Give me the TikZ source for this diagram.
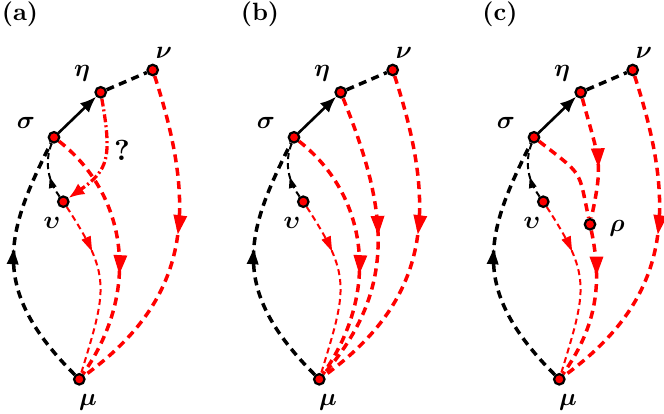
\documentclass[tikz,border=0pt]{standalone}
\usepackage{graphicx}
\usepackage{amsmath}
\usepackage{bm}
\usetikzlibrary{arrows.meta,decorations.markings}
\pgfdeclarelayer{edges}
\pgfsetlayers{edges,main}
\newcommand\enl[1]{\scalebox{2.5}{#1}}
\tikzset{
  vtx/.style={circle, fill=red, draw=black, line width=2.2pt, minimum size=10.5pt, inner sep=0pt},
  lbl/.style={inner sep=0pt},
  thk/.style={line width=3.5pt, dash pattern=on 8pt off 5.5pt},
  thn/.style={line width=2pt, dash pattern=on 6pt off 4pt},
  dashdot/.style={line width=3.3pt, dash pattern=on 8pt off 3pt on 2pt off 3pt},
  tri/.style n args={3}{postaction={decorate, decoration={markings, mark=at position #1 with {\fill[solid] (0pt,0pt) -- (-#2,#3) -- (-#2,-#3) -- cycle;}}}},
  redarr/.style={tri={#1}{19pt}{7pt}},
  blkarr/.style={tri={#1}{15pt}{6pt}},
  sredarr/.style={tri={#1}{15pt}{5pt}},
  sblkarr/.style={tri={#1}{11pt}{4pt}},
}
\newcommand\panelcommon{%
  \node[vtx] (nu) at (152.7,-70) {};
  \node[vtx] (eta) at (100.7,-92.3) {};
  \node[vtx] (sig) at (54,-137.3) {};
  \node[vtx] (ups) at (63.3,-201.7) {};
  \node[vtx] (mu) at (79.3,-379.3) {};
  \node[lbl] (lnu) at (164,-53) {\enl{$\bm{\nu}$}};
  \node[lbl] (leta) at (82,-73) {\enl{$\bm{\eta}$}};
  \node[lbl] (lsig) at (26,-123) {\enl{$\bm{\sigma}$}};
  \node[lbl] (lups) at (52,-223) {\enl{$\bm{\upsilon}$}};
  \node[lbl] (lmu) at (88,-402) {\enl{$\bm{\mu}$}};
  \begin{pgfonlayer}{edges}
    \draw[thk] (eta) -- (nu);
    \draw[line width=2.6pt, -{Latex[length=16pt,width=13pt]}] (sig) -- (eta);
    \draw[thk, blkarr=0.56] (mu) to[out=135,in=243,out distance=120pt,in distance=110pt] (sig);
    \draw[thn, sblkarr=0.39] (ups) to[out=126,in=249,out distance=25pt,in distance=22pt] (sig);
    \draw[thk, red, redarr=0.48] (nu) to[out=-72,in=36,out distance=139pt,in distance=139pt] (mu);
    \draw[thn, red, sredarr=0.29] (ups) to[out=-57,in=73,out distance=82pt,in distance=95pt] (mu);
  \end{pgfonlayer}
}
\begin{document}
\begin{tikzpicture}[x=1pt,y=1pt]
\useasboundingbox (0,0) rectangle (664,-414);
% panel (a)
\begin{scope}[name prefix=a-]
  \node[lbl] (tag) at (20,-14) {\enl{\textbf{(a)}}};
  \panelcommon
  \node[lbl] (q) at (122,-150) {\scalebox{2.9}{\textbf{?}}};
  \begin{pgfonlayer}{edges}
    \draw[thk, red, redarr=0.585] (sig) to[out=-38,in=55,out distance=85pt,in distance=110pt] (mu);
    \draw[dashdot, red, -{Latex[length=16pt,width=13pt]}] (eta) to[out=-80,in=35,out distance=60pt,in distance=55pt] (ups);
  \end{pgfonlayer}
\end{scope}
% panel (b)
\begin{scope}[xshift=240pt, name prefix=b-]
  \node[lbl] (tag) at (20,-14) {\enl{\textbf{(b)}}};
  \panelcommon
  \begin{pgfonlayer}{edges}
    \draw[thk, red, redarr=0.585] (sig) to[out=-38,in=55,out distance=85pt,in distance=110pt] (mu);
    \draw[thk, red, redarr=0.48] (eta) to[out=-68,in=49,out distance=120pt,in distance=120pt] (mu);
  \end{pgfonlayer}
\end{scope}
% panel (c)
\begin{scope}[xshift=480pt, name prefix=c-]
  \node[lbl] (tag) at (20,-14) {\enl{\textbf{(c)}}};
  \panelcommon
  \node[vtx] (rho) at (110,-224.3) {};
  \node[lbl] (lrho) at (137,-228) {\enl{$\bm{\rho}$}};
  \begin{pgfonlayer}{edges}
    \draw[thk, red, redarr=0.58] (eta) to[out=-75,in=78,out distance=66pt,in distance=66pt] (rho);
    \draw[thk, red] (sig) to[out=-38,in=102,out distance=57pt,in distance=57pt] (rho);
    \draw[thk, red, redarr=0.3] (rho) to[out=-78,in=55,out distance=60pt,in distance=60pt] (mu);
  \end{pgfonlayer}
\end{scope}
\end{tikzpicture}
\end{document}
